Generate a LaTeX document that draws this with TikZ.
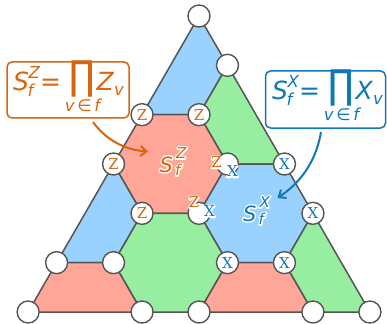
\documentclass[tikz,border=0pt]{standalone}
\usepackage{fontspec}
\setmainfont{DejaVu Sans}
\newfontfamily\serifz{DejaVu Serif}
\usetikzlibrary{arrows.meta}
\definecolor{cred}{HTML}{FFA699}
\definecolor{cgreen}{HTML}{98EEA0}
\definecolor{cblue}{HTML}{99D2FF}
\definecolor{zcol}{HTML}{D8660F}
\definecolor{xcol}{HTML}{0F78B8}
\definecolor{edgec}{HTML}{555555}
\newcommand{\bigF}{\fontsize{25}{25}\selectfont}
\newcommand{\smF}{\fontsize{16.5}{16.5}\selectfont}
\newcommand{\hbF}{\fontsize{21}{21}\selectfont}
\newcommand{\hsF}{\fontsize{15}{15}\selectfont}
\newcommand{\halo}[1]{\leavevmode\rlap{\special{pdf:literal direct 1 Tr 2.8 w 1 j 1 1 1 RG}#1\special{pdf:literal direct 0 Tr}}#1}
\begin{document}
\begin{tikzpicture}[x=1pt,y=-1pt,
  face/.style={draw=edgec, line width=1.5pt, line join=round},
  qubit/.style={circle, draw=edgec, fill=white, line width=1.4pt, minimum size=22pt, inner sep=0pt},
  qz/.style={text=zcol, font=\serifz\fontsize{15}{15}\selectfont},
  qx/.style={text=xcol, font=\serifz\fontsize{15}{15}\selectfont},
  bt/.style={inner sep=0pt, anchor=base west},
  bc/.style={inner sep=0pt, anchor=base},
  fbox/.style={draw, line width=1.5pt, rounded corners=5pt, fill=white, inner sep=0pt},
  conn/.style={line width=2pt, -{Straight Barb[length=6pt,width=10pt,line width=2pt]}}
]
\useasboundingbox (0,0) rectangle (387,323);
% lattice vertices
\coordinate (v0) at (199,16);
\coordinate (v1) at (227.48,65.33);
\coordinate (v2) at (142.04,114.67);
\coordinate (v3) at (199,114.67);
\coordinate (v4) at (113.56,164);
\coordinate (v5) at (227.48,164);
\coordinate (v6) at (284.44,164);
\coordinate (v7) at (142.04,213.33);
\coordinate (v8) at (199,213.33);
\coordinate (v9) at (312.92,213.33);
\coordinate (v10) at (56.6,262.67);
\coordinate (v11) at (113.56,262.67);
\coordinate (v12) at (227.48,262.67);
\coordinate (v13) at (284.44,262.67);
\coordinate (v14) at (28.12,312);
\coordinate (v15) at (142.04,312);
\coordinate (v16) at (199,312);
\coordinate (v17) at (312.92,312);
\coordinate (v18) at (369.88,312);
% faces
\filldraw[face, fill=cblue] (v0) -- (v1) -- (v3) -- (v2) -- cycle;
\filldraw[face, fill=cgreen] (v1) -- (v6) -- (v5) -- (v3) -- cycle;
\filldraw[face, fill=cred] (v2) -- (v3) -- (v5) -- (v8) -- (v7) -- (v4) -- cycle;
\filldraw[face, fill=cblue] (v4) -- (v7) -- (v11) -- (v10) -- cycle;
\filldraw[face, fill=cblue] (v5) -- (v6) -- (v9) -- (v13) -- (v12) -- (v8) -- cycle;
\filldraw[face, fill=cgreen] (v7) -- (v8) -- (v12) -- (v16) -- (v15) -- (v11) -- cycle;
\filldraw[face, fill=cred] (v10) -- (v11) -- (v15) -- (v14) -- cycle;
\filldraw[face, fill=cred] (v12) -- (v13) -- (v17) -- (v16) -- cycle;
\filldraw[face, fill=cgreen] (v13) -- (v9) -- (v18) -- (v17) -- cycle;
% qubits
\node[qubit] (q0) at (v0) {};
\node[qubit] (q1) at (v1) {};
\node[qubit, qz] (q2) at (v2) {Z};
\node[qubit, qz] (q3) at (v3) {Z};
\node[qubit, qz] (q4) at (v4) {Z};
\node[qubit] (q5) at (v5) {};
\node[qubit, qx] (q6) at (v6) {X};
\node[qubit, qz] (q7) at (v7) {Z};
\node[qubit] (q8) at (v8) {};
\node[qubit, qx] (q9) at (v9) {X};
\node[qubit] (q10) at (v10) {};
\node[qubit] (q11) at (v11) {};
\node[qubit, qx] (q12) at (v12) {X};
\node[qubit, qx] (q13) at (v13) {X};
\node[qubit] (q14) at (v14) {};
\node[qubit] (q15) at (v15) {};
\node[qubit] (q16) at (v16) {};
\node[qubit] (q17) at (v17) {};
\node[qubit] (q18) at (v18) {};
% shared labels
\node[qz, inner sep=0pt] (z5) at (216.5,162.5) {\halo{Z}};
\node[qx, inner sep=0pt] (x5) at (232.5,171.5) {\halo{X}};
\node[qz, inner sep=0pt] (z8) at (194,202.5) {\halo{Z}};
\node[qx, inner sep=0pt] (x8) at (209.5,211.5) {\halo{X}};
% hexagon stabilizer labels
\node[bt, text=zcol] (hzS) at (159.5,172) {\hbF\itshape\halo{S}};
\node[bt, text=zcol] (hzsup) at (176,158.5) {\hsF\itshape\halo{Z}};
\node[bt, text=zcol] (hzsub) at (175,175.5) {\hsF\itshape\halo{f}};
\node[bt, text=xcol] (hxS) at (243,221) {\hbF\itshape\halo{S}};
\node[bt, text=xcol] (hxsup) at (259.5,207.5) {\hsF\itshape\halo{X}};
\node[bt, text=xcol] (hxsub) at (258.5,224.5) {\hsF\itshape\halo{f}};
% formula boxes
\node[fbox, draw=zcol, minimum width=122pt, minimum height=56pt] (zbox) at (68,90) {};
\node[bt, text=zcol] (zS) at (13,91) {\bigF\itshape S};
\node[bt, text=zcol] (zsup) at (28.5,79) {\smF\itshape Z};
\node[bt, text=zcol] (zsub) at (27.5,97) {\smF\itshape f};
\node[bc, text=zcol] (zeq) at (50.5,91) {\bigF =};
\node[inner sep=0pt, anchor=south, text=zcol] (zprod) at (82.5,97.5) {\bigF\scalebox{1.35}[1.6]{∏}};
\node[bc, text=zcol] (zidx) at (82.5,111.5) {\smF\itshape v\,\upshape∈\,\itshape f};
\node[bt, text=zcol] (zZ) at (96.5,91) {\bigF\itshape Z};
\node[bt, text=zcol] (zv) at (114,96) {\smF\itshape v};
\node[fbox, draw=xcol, minimum width=120pt, minimum height=57pt] (xbox) at (325.5,99.5) {};
\node[bt, text=xcol] (xS) at (272,100) {\bigF\itshape S};
\node[bt, text=xcol] (xsup) at (287.5,88) {\smF\itshape X};
\node[bt, text=xcol] (xsub) at (286.5,106) {\smF\itshape f};
\node[bc, text=xcol] (xeq) at (309.5,100) {\bigF =};
\node[inner sep=0pt, anchor=south, text=xcol] (xprod) at (341.5,106.5) {\bigF\scalebox{1.35}[1.6]{∏}};
\node[bc, text=xcol] (xidx) at (341.5,120.5) {\smF\itshape v\,\upshape∈\,\itshape f};
\node[bt, text=xcol] (xX) at (355.5,100) {\bigF\itshape X};
\node[bt, text=xcol] (xv) at (373,105) {\smF\itshape v};
% arrows
\coordinate (za) at (93,122);
\coordinate (zb) at (148,151.5);
\coordinate (xa) at (321,132);
\coordinate (xb) at (277.5,198);
\draw[conn, zcol] (za) .. controls (106,140) and (125,150) .. (zb);
\draw[conn, xcol] (xa) .. controls (316,162) and (300,183) .. (xb);
\end{tikzpicture}
\end{document}
